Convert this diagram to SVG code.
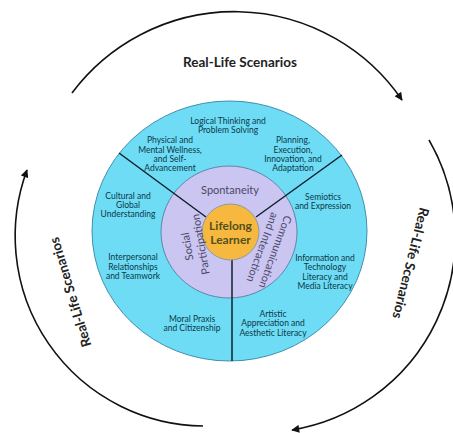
<svg xmlns="http://www.w3.org/2000/svg" width="453" height="433" viewBox="0 0 453 433">
<defs>
<marker id="ah" viewBox="0 0 10 10" refX="9" refY="5" markerUnits="userSpaceOnUse" markerWidth="9" markerHeight="8" orient="auto">
<path d="M0,0 L10,5 L0,10 z" fill="#111"/>
</marker>
</defs>
<style>
.arc{fill:none;stroke:#111;stroke-width:1.6}
.rl{font-family:Lato,"Liberation Sans",sans-serif;font-weight:bold;font-size:13.5px;fill:#222;text-anchor:middle}
.lab{font-family:Lato,"Liberation Sans",sans-serif;font-size:8.5px;fill:#0b3848;text-anchor:middle}
.ring{font-family:Lato,"Liberation Sans",sans-serif;font-size:11px;fill:#4a4868;text-anchor:middle}
.core{font-family:Lato,"Liberation Sans",sans-serif;font-weight:bold;font-size:12px;fill:#55501c;text-anchor:middle}
.div{stroke:#10202a;stroke-width:1.5}
</style>
<rect width="453" height="433" fill="#fff"/>
<g id="connectors">
<path class="arc" d="M72,93 A203,203 0 0 1 402,100" marker-end="url(#ah)"/>
<path class="arc" d="M429,140 A195,195 0 0 1 292,430" marker-end="url(#ah)"/>
<path class="arc" d="M203,426 A190,190 0 0 1 27,170" marker-end="url(#ah)"/>
</g>
<g id="outer-ring">
<ellipse cx="229.5" cy="231" rx="137.5" ry="130" fill="#6edcf5" stroke="#3f8fae" stroke-width="1"/>
</g>
<g id="middle-ring">
<ellipse cx="229" cy="232" rx="68" ry="66" fill="#cbc5f1" stroke="#5d86a8" stroke-width="1"/>
</g>
<g id="dividers">
<line class="div" x1="119" y1="153" x2="206" y2="217"/>
<line class="div" x1="342" y1="155" x2="256" y2="217"/>
<line class="div" x1="232" y1="258" x2="232" y2="361"/>
</g>
<g id="core">
<ellipse cx="230.5" cy="232" rx="28.5" ry="28" fill="#f6b83e" stroke="#8a9aa8" stroke-width="1"/>
<text class="core" x="230.5" y="230">Lifelong</text>
<text class="core" x="230.5" y="243.5">Learner</text>
</g>
<g id="label-real-life-top"><text class="rl" x="240" y="67">Real-Life Scenarios</text></g>
<g id="label-real-life-left"><text class="rl" transform="translate(71,292) rotate(-107)" x="0" y="4">Real-Life Scenarios</text></g>
<g id="label-real-life-right"><text class="rl" transform="translate(410,263) rotate(104)" x="0" y="4">Real-Life Scenarios</text></g>
<g id="spontaneity"><text class="ring" x="230" y="194">Spontaneity</text></g>
<g id="social-participation">
<text class="ring" transform="translate(196,245) rotate(-100)"><tspan x="0" y="-5">Social</tspan><tspan x="0" y="8.5">Participation</tspan></text>
</g>
<g id="communication-interaction">
<text class="ring" transform="translate(267,249) rotate(110)"><tspan x="0" y="-5">Communication</tspan><tspan x="0" y="8.5">and Interaction</tspan></text>
</g>
<g id="logical">
<text class="lab"><tspan x="228" y="124">Logical Thinking and</tspan><tspan x="228" y="133">Problem Solving</tspan></text>
</g>
<g id="physical">
<text class="lab"><tspan x="170" y="143">Physical and</tspan><tspan x="170" y="152.5">Mental Wellness,</tspan><tspan x="170" y="162">and Self-</tspan><tspan x="170" y="171">Advancement</tspan></text>
</g>
<g id="planning">
<text class="lab"><tspan x="293" y="143">Planning,</tspan><tspan x="293" y="152.5">Execution,</tspan><tspan x="293" y="162">Innovation, and</tspan><tspan x="293" y="171">Adaptation</tspan></text>
</g>
<g id="cultural">
<text class="lab"><tspan x="128" y="199">Cultural and</tspan><tspan x="128" y="208">Global</tspan><tspan x="128" y="217">Understanding</tspan></text>
</g>
<g id="semiotics">
<text class="lab"><tspan x="323" y="200">Semiotics</tspan><tspan x="323" y="209">and Expression</tspan></text>
</g>
<g id="interpersonal">
<text class="lab"><tspan x="133" y="260">Interpersonal</tspan><tspan x="133" y="269.5">Relationships</tspan><tspan x="133" y="279">and Teamwork</tspan></text>
</g>
<g id="information">
<text class="lab"><tspan x="325" y="261">Information and</tspan><tspan x="325" y="270">Technology</tspan><tspan x="325" y="279.5">Literacy and</tspan><tspan x="325" y="289">Media Literacy</tspan></text>
</g>
<g id="moral">
<text class="lab"><tspan x="192" y="322">Moral Praxis</tspan><tspan x="192" y="331">and Citizenship</tspan></text>
</g>
<g id="artistic">
<text class="lab"><tspan x="273" y="317">Artistic</tspan><tspan x="273" y="326">Appreciation and</tspan><tspan x="273" y="335.5">Aesthetic Literacy</tspan></text>
</g>
</svg>
